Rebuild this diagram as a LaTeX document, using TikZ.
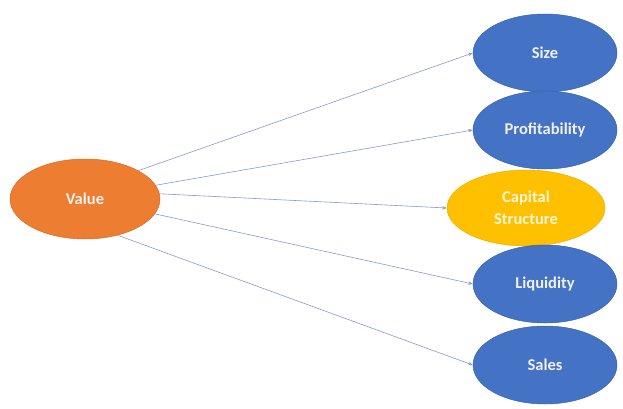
\documentclass[tikz,border=0pt]{standalone}
\usepackage{fontspec}
\setmainfont{Carlito}
\usetikzlibrary{shapes.geometric,arrows.meta}
\definecolor{valorange}{HTML}{ED7D31}
\definecolor{valorangeline}{HTML}{D86A22}
\definecolor{factblue}{HTML}{4472C4}
\definecolor{factblueline}{HTML}{3A63AE}
\definecolor{factyellow}{HTML}{FFC000}
\definecolor{factyellowline}{HTML}{EDB000}
\definecolor{linkline}{RGB}{140,150,210}
\tikzset{
  x=1pt, y=1pt,
  blob/.style={ellipse, minimum width=144pt, minimum height=78pt, inner sep=0pt,
    text=white!94!black, font=\fontsize{16.5}{22}\selectfont\bfseries, align=center, line width=0.5pt},
  bluefactor/.style={blob, fill=factblue, draw=factblueline},
  link/.style={draw=linkline, line width=0.6pt, -{Stealth[length=4.5pt,width=3.5pt]}}
}
\begin{document}
\begin{tikzpicture}
\useasboundingbox (0,0) rectangle (623,408);
\node[blob, fill=valorange, draw=valorangeline, minimum width=150pt, minimum height=80pt] (value) at (85,209) {Value};
\node[bluefactor] (size) at (545,355) {Size};
\node[bluefactor] (profit) at (545,278) {Profitability};
\node[blob, fill=factyellow, draw=factyellowline, minimum width=158pt, minimum height=76pt, text=white!85!factyellow] (capital) at (526,200) {Capital\\Structure};
\node[bluefactor] (liquid) at (545,124) {Liquidity};
\node[bluefactor] (sales) at (545,43) {Sales};
\draw[link] (value.28) -- (size.west);
\draw[link] (value.11) -- (profit.west);
\draw[link] (value.4) -- (capital.west);
\draw[link] (value.-12) -- (liquid.west);
\draw[link] (value.-48) -- (sales.west);
\end{tikzpicture}
\end{document}
